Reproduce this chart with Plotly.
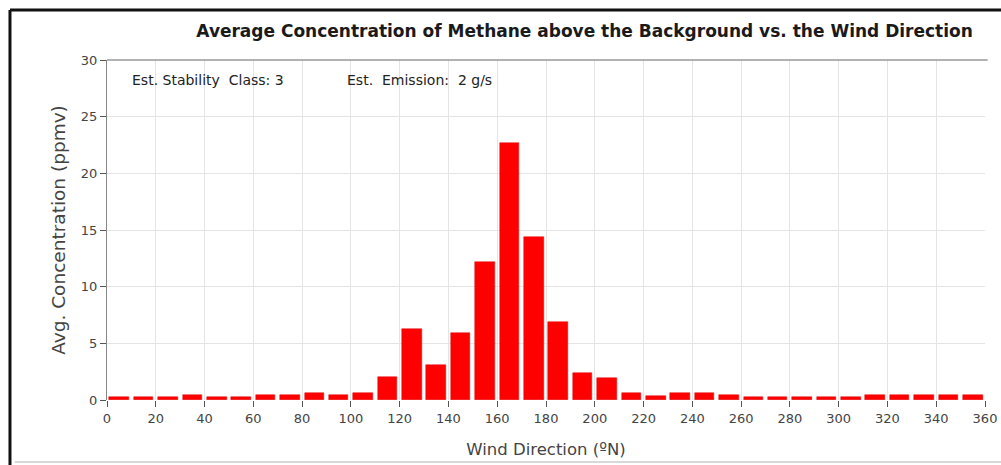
import plotly.graph_objects as go

# ================= DATA =================
bin_centers = [5, 15, 25, 35, 45, 55, 65, 75, 85, 95, 105, 115,
               125, 135, 145, 155, 165, 175, 185, 195, 205, 215, 225, 235,
               245, 255, 265, 275, 285, 295, 305, 315, 325, 335, 345, 355]
avg_conc = [0.3, 0.3, 0.3, 0.45, 0.3, 0.3, 0.45, 0.45, 0.6, 0.45, 0.6, 2.0,
            6.3, 3.1, 5.9, 12.2, 22.7, 14.4, 6.9, 2.4, 1.9, 0.65, 0.35, 0.65,
            0.65, 0.4, 0.25, 0.25, 0.25, 0.25, 0.25, 0.4, 0.4, 0.4, 0.4, 0.4]
x_ticks = list(range(0, 361, 20))
y_ticks = [0, 5, 10, 15, 20, 25, 30]

FONT = "DejaVu Sans"

fig = go.Figure()

fig.add_trace(
    go.Bar(
        x=bin_centers,
        y=avg_conc,
        width=8,
        marker=dict(color="#ff0000", line=dict(color="#e00000", width=0.5)),
        showlegend=False
    )
)

# ================= LAYOUT =================
fig.update_layout(
    width=1001,
    height=465,
    paper_bgcolor="white",
    plot_bgcolor="white",
    margin=dict(l=107, r=16, t=60, b=65, autoexpand=False),
    title=dict(
        text="<b>Average Concentration of Methane above the Background vs. the Wind Direction</b>",
        x=0.584, xanchor="center",
        y=0.934, yanchor="middle",
        font=dict(family=FONT, size=17, color="#1a1a1a")
    ),
    xaxis=dict(
        range=[0, 360],
        tickvals=x_ticks,
        ticks="outside",
        ticklen=6,
        tickcolor="#555",
        showgrid=True,
        gridcolor="#e4e4e4",
        zeroline=False,
        showline=False,
        automargin=False,
        tickfont=dict(family=FONT, size=13, color="#444"),
        title=dict(text="Wind Direction (ºN)", standoff=18,
                   font=dict(family=FONT, size=16.5, color="#444"))
    ),
    yaxis=dict(
        range=[0, 30],
        tickvals=y_ticks,
        ticks="outside",
        ticklen=6,
        tickcolor="#555",
        showgrid=True,
        gridcolor="#e4e4e4",
        zeroline=False,
        showline=True,
        linecolor="#888",
        linewidth=1,
        automargin=False,
        tickfont=dict(family=FONT, size=13, color="#444"),
        title=dict(text="Avg. Concentration (ppmv)", standoff=10,
                   font=dict(family=FONT, size=18.5, color="#444"))
    ),
    bargap=0
)

# ================= FRAME AND BORDERS =================
# outer black frame: top and left edges
fig.add_shape(type="line", xref="paper", yref="paper",
              x0=-0.1105, x1=1.02, y0=1.147, y1=1.147,
              line=dict(color="#111", width=3))
fig.add_shape(type="line", xref="paper", yref="paper",
              x0=-0.1105, x1=-0.1105, y0=-0.2, y1=1.147,
              line=dict(color="#111", width=3))
# faint bottom edge of the panel
fig.add_shape(type="line", xref="paper", yref="paper",
              x0=-0.105, x1=1.02, y0=-0.182, y1=-0.182,
              line=dict(color="#d8d8d8", width=2))
# top border of the plot area
fig.add_shape(type="line", xref="paper", yref="paper",
              x0=0, x1=1.003, y0=1, y1=1,
              line=dict(color="#999", width=1.5))

# ================= ANNOTATIONS =================
fig.add_annotation(text="Est. Stability  Class: 3", xref="paper", yref="paper",
                   x=0.026, y=0.94, xanchor="left", yanchor="middle",
                   showarrow=False, font=dict(family=FONT, size=14, color="#222"))
fig.add_annotation(text="Est.  Emission:  2 g/s", xref="paper", yref="paper",
                   x=0.271, y=0.94, xanchor="left", yanchor="middle",
                   showarrow=False, font=dict(family=FONT, size=14, color="#222"))

# drop the default page margin so the figure fills the window
fig.write_html(
    "out.html",
    config={"displayModeBar": False},
    post_script="document.body.style.margin='0';document.body.style.overflow='hidden';"
)
